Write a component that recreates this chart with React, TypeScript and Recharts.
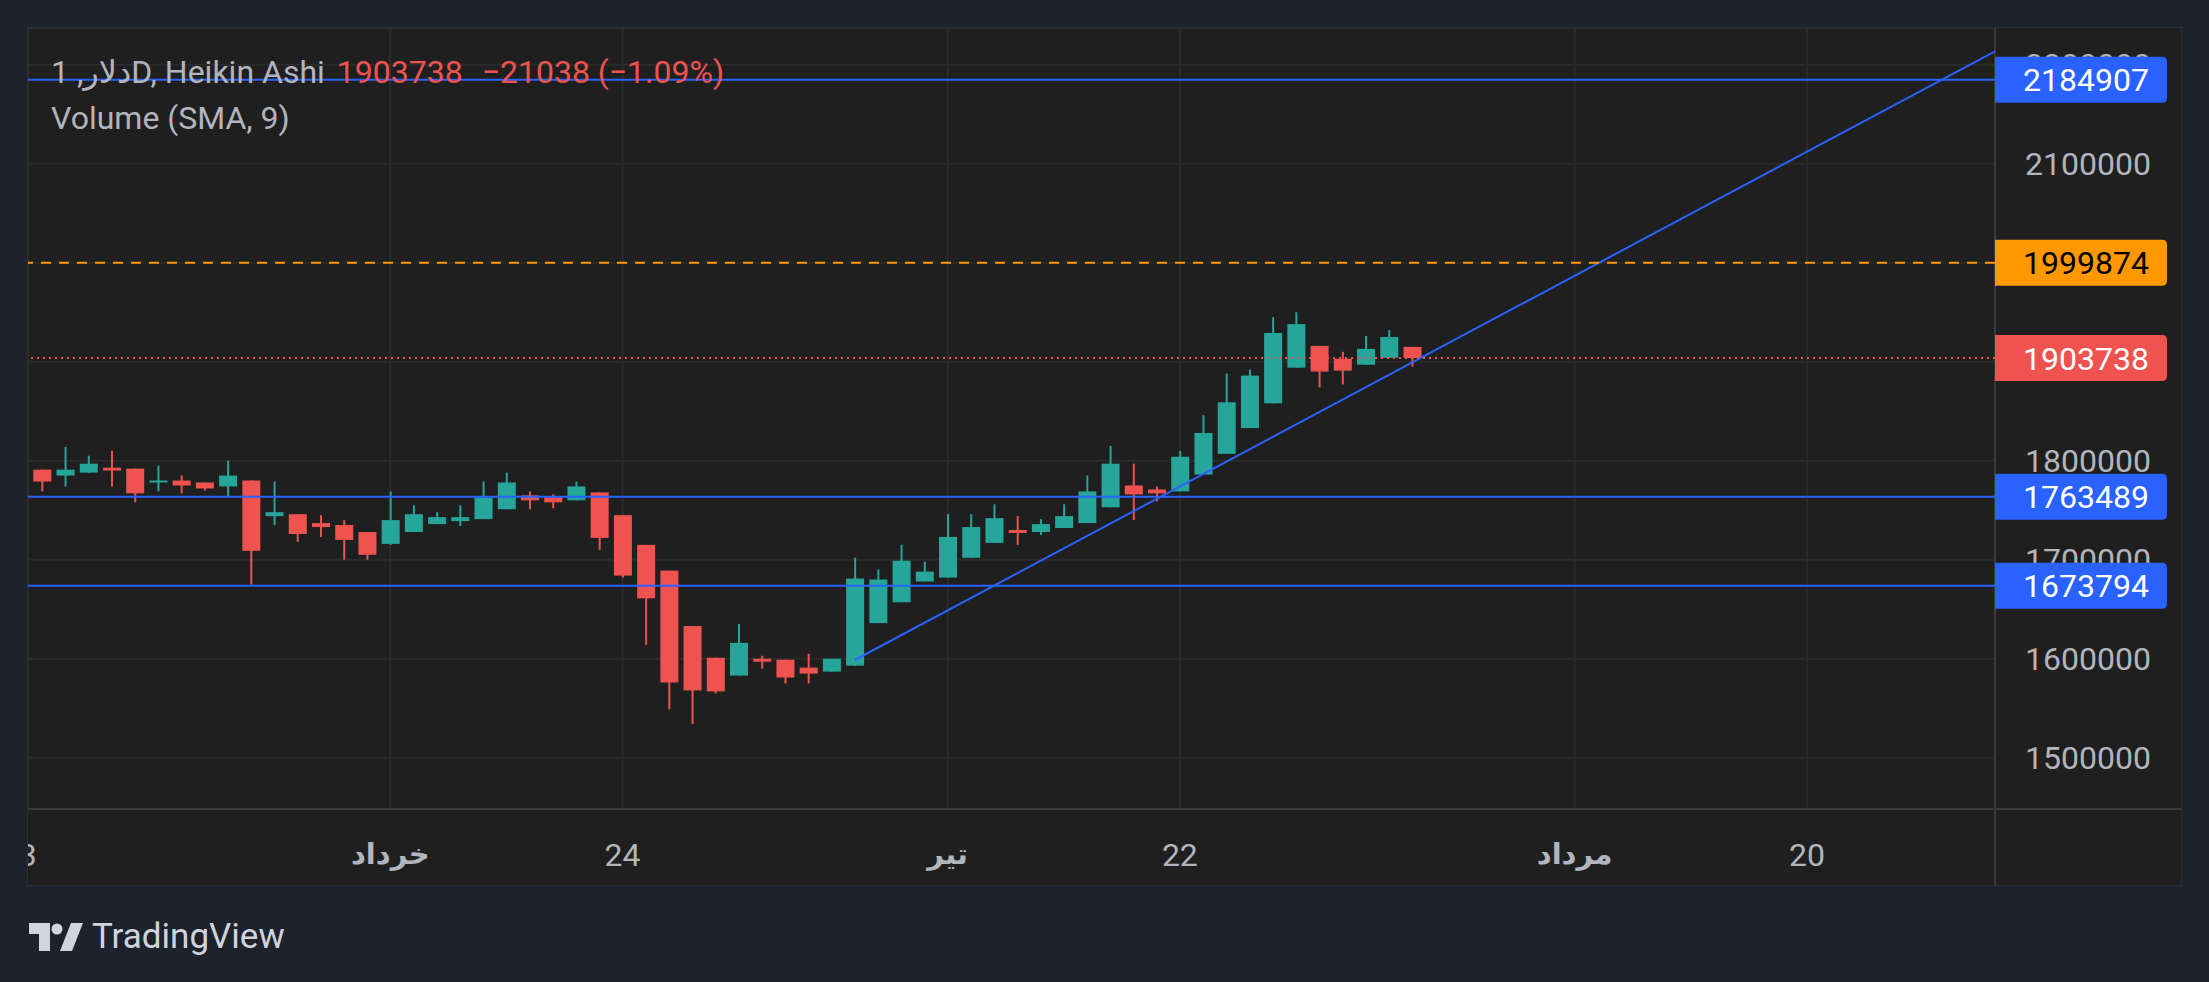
import React from 'react';
import {
  Bar,
  CartesianGrid,
  ComposedChart,
  ReferenceLine,
  XAxis,
  YAxis,
} from 'recharts';

// Heikin Ashi daily candles, oldest first
const OPEN = [
  1791000, 1785000, 1788000, 1793000, 1792000, 1778000, 1780000, 1778000, 1774000, 1780000,
  1744000, 1746000, 1737000, 1735000, 1728000, 1716000, 1728000, 1736000, 1739000, 1741000,
  1751000, 1765000, 1763000, 1760000, 1768000, 1745000, 1715000, 1689000, 1633000, 1601000,
  1583000, 1600000, 1599000, 1591000, 1587000, 1593000, 1636000, 1657000, 1678000, 1682000,
  1702000, 1717000, 1730000, 1728000, 1732000, 1737000, 1753000, 1775000, 1771000, 1769000,
  1786000, 1807000, 1833000, 1858000, 1894000, 1916000, 1903000, 1897000, 1904000, 1915000,
];
const HIGH = [
  1791000, 1814000, 1805000, 1810000, 1792000, 1795000, 1785000, 1778000, 1800000, 1780000,
  1779000, 1746000, 1745000, 1740000, 1728000, 1769000, 1755000, 1748000, 1755000, 1779000,
  1788000, 1769000, 1766000, 1779000, 1768000, 1745000, 1715000, 1689000, 1633000, 1601000,
  1635000, 1603000, 1599000, 1605000, 1600000, 1702000, 1690000, 1715000, 1698000, 1746000,
  1746000, 1756000, 1744000, 1741000, 1756000, 1785000, 1815000, 1797000, 1774000, 1810000,
  1846000, 1888000, 1892000, 1945000, 1950000, 1916000, 1910000, 1926000, 1932000, 1915000,
];
const LOW = [
  1769000, 1774000, 1788000, 1774000, 1758000, 1769000, 1767000, 1770000, 1764000, 1675000,
  1735000, 1718000, 1723000, 1700000, 1700000, 1715000, 1728000, 1736000, 1734000, 1741000,
  1751000, 1751000, 1752000, 1760000, 1710000, 1682000, 1614000, 1549000, 1534000, 1565000,
  1583000, 1590000, 1575000, 1575000, 1587000, 1593000, 1636000, 1657000, 1678000, 1682000,
  1702000, 1717000, 1715000, 1725000, 1732000, 1737000, 1753000, 1740000, 1759000, 1769000,
  1786000, 1807000, 1833000, 1858000, 1894000, 1874000, 1877000, 1897000, 1904000, 1895000,
];
const CLOSE = [
  1779000, 1791000, 1797000, 1790000, 1767000, 1780000, 1775000, 1772000, 1785000, 1709000,
  1748000, 1726000, 1733000, 1720000, 1705000, 1740000, 1746000, 1743000, 1743000, 1763000,
  1778000, 1760000, 1758000, 1774000, 1722000, 1684000, 1661000, 1576000, 1568000, 1567000,
  1616000, 1597000, 1581000, 1585000, 1600000, 1681000, 1680000, 1699000, 1688000, 1723000,
  1733000, 1742000, 1727000, 1736000, 1744000, 1769000, 1797000, 1766000, 1767000, 1804000,
  1828000, 1859000, 1886000, 1929000, 1938000, 1890000, 1891000, 1913000, 1925000, 1903738,
];

// time axis: bar index -> label
const X_TICKS = [0, 16, 26, 40, 50, 67, 77];
const X_LABELS = ['23', 'خرداد', '24', 'تیر', '22', 'مرداد', '20'];
const Y_TICKS = [1500000, 1600000, 1700000, 1800000, 1900000, 2000000, 2100000, 2200000];

// drawings
const SUPPORT_LEVELS = [2184907, 1763489, 1673794];
const TARGET_LEVEL = 1999874;
const LAST_PRICE = 1903738;
const TREND_ANCHORS = [
  { i: 36, p: 1598700 },
  { i: 60, p: 1899200 },
];

const X_DOMAIN: [number, number] = [0.4, 85.1];
const Y_DOMAIN: [number, number] = [1448200, 2237100];

const UP = '#26a69a';
const DOWN = '#ef5350';
const BLUE = '#2962ff';
const ORANGE = '#ff9800';
const TEXT = '#b2b5be';
const FONT = 'Roboto, "DejaVu Sans", sans-serif';
const W = 2153;
const H = 857;

const data = OPEN.map((o, k) => ({
  i: k + 1,
  o,
  h: HIGH[k],
  l: LOW[k],
  c: CLOSE[k],
  range: [LOW[k], HIGH[k]],
}));

// extend the trend line to the right edge
const slope = (TREND_ANCHORS[1].p - TREND_ANCHORS[0].p) / (TREND_ANCHORS[1].i - TREND_ANCHORS[0].i);
const trendEnd = X_DOMAIN[1] + 1;
const trendSegment = [
  { x: TREND_ANCHORS[0].i, y: TREND_ANCHORS[0].p },
  { x: trendEnd, y: TREND_ANCHORS[0].p + slope * (trendEnd - TREND_ANCHORS[0].i) },
];

function Candle(props: any) {
  const { x, y, width, height, payload } = props;
  if (!payload || height == null) return null;
  const { o, h, l, c } = payload;
  const top = Math.min(y, y + height);
  const span = Math.abs(height);
  const ppu = h === l ? 0 : span / (h - l);
  const cx = x + width / 2;
  const bodyTop = top + (h - Math.max(o, c)) * ppu;
  const bodyH = Math.max(Math.abs(o - c) * ppu, 2);
  const color = c >= o ? UP : DOWN;
  return (
    <g>
      <rect x={cx - 1} y={top} width={2} height={span} fill={color} />
      <rect x={x} y={bodyTop} width={width} height={bodyH} fill={color} />
    </g>
  );
}

function PriceTag({ viewBox, value, bg, fg }: any) {
  if (!viewBox) return null;
  const x0 = viewBox.x + viewBox.width;
  const yc = viewBox.y;
  const w = 172;
  const h = 46;
  const r = 5;
  const path = `M${x0} ${yc - h / 2} H${x0 + w - r} Q${x0 + w} ${yc - h / 2} ${x0 + w} ${yc - h / 2 + r} V${yc + h / 2 - r} Q${x0 + w} ${yc + h / 2} ${x0 + w - r} ${yc + h / 2} H${x0} Z`;
  return (
    <g>
      <path d={path} fill={bg} />
      <text x={x0 + 154} y={yc} dy="0.36em" textAnchor="end" fill={fg} fontSize={32} fontFamily={FONT}>
        {value}
      </text>
    </g>
  );
}

function YTick(props: any) {
  const { x, y, payload } = props;
  return (
    <text x={x + 154} y={y} dy="0.36em" textAnchor="end" fill={TEXT} fontSize={32} fontFamily={FONT}>
      {payload.value}
    </text>
  );
}

function XTick(props: any) {
  const { x, y, payload } = props;
  const label = X_LABELS[X_TICKS.indexOf(payload.value)] ?? '';
  const isMonth = !/^\d+$/.test(label);
  return (
    <text
      x={x}
      y={y + 43}
      dy="0.36em"
      textAnchor="middle"
      fill={TEXT}
      fontSize={isMonth ? 29 : 32}
      fontWeight={isMonth ? 'bold' : 'normal'}
      fontFamily={FONT}
    >
      {label}
    </text>
  );
}

function Axes({ show }: { show: boolean }) {
  return (
    <>
      <XAxis
        dataKey="i"
        type="number"
        domain={X_DOMAIN}
        ticks={X_TICKS}
        interval={0}
        allowDataOverflow
        height={76}
        tickSize={0}
        tickLine={false}
        axisLine={show ? { stroke: '#3a3a3a', strokeWidth: 2 } : false}
        tick={show ? <XTick /> : false}
      />
      <YAxis
        orientation="right"
        type="number"
        domain={Y_DOMAIN}
        ticks={Y_TICKS}
        interval={0}
        allowDataOverflow
        width={186}
        tickSize={0}
        tickLine={false}
        axisLine={show ? { stroke: '#3a3a3a', strokeWidth: 2 } : false}
        tick={show ? <YTick /> : false}
      />
    </>
  );
}

export default function App() {
  return (
    <div
      style={{
        position: 'absolute',
        left: 0,
        top: 0,
        width: 2209,
        height: 982,
        background: '#1e222d',
        fontFamily: FONT,
        overflow: 'hidden',
      }}
    >
      <div
        style={{
          position: 'absolute',
          left: 27,
          top: 27,
          width: W,
          height: H,
          border: '1px solid #2e2e2e',
          background: '#1f1f1f',
          overflow: 'hidden',
        }}
      >
        {/* price series */}
        <div style={{ position: 'absolute', left: 0, top: 0 }}>
          <ComposedChart width={W} height={H} data={data} margin={{ top: 0, right: 0, bottom: 0, left: 0 }}>
            <CartesianGrid stroke="#2b2b2b" strokeWidth={2} />
            {Axes({ show: true })}
            <Bar dataKey="range" barSize={18} shape={<Candle />} isAnimationActive={false} />
          </ComposedChart>
        </div>

        {/* drawings and price tags, above the axis labels */}
        <div style={{ position: 'absolute', left: 0, top: 0 }}>
          <ComposedChart width={W} height={H} data={data} margin={{ top: 0, right: 0, bottom: 0, left: 0 }}>
            {Axes({ show: false })}
            <ReferenceLine segment={trendSegment} stroke={BLUE} strokeWidth={2} ifOverflow="hidden" />
            {SUPPORT_LEVELS.map((v) => (
              <ReferenceLine
                key={v}
                y={v}
                stroke={BLUE}
                strokeWidth={2}
                label={(p: any) => <PriceTag viewBox={p.viewBox} value={v} bg={BLUE} fg="#ffffff" />}
              />
            ))}
            <ReferenceLine
              y={TARGET_LEVEL}
              stroke={ORANGE}
              strokeWidth={2}
              strokeDasharray="10 8"
              label={(p: any) => <PriceTag viewBox={p.viewBox} value={TARGET_LEVEL} bg={ORANGE} fg="#000000" />}
            />
            <ReferenceLine
              y={LAST_PRICE}
              stroke={DOWN}
              strokeWidth={2}
              strokeDasharray="2 4"
              label={(p: any) => <PriceTag viewBox={p.viewBox} value={LAST_PRICE} bg={DOWN} fg="#ffffff" />}
            />
          </ComposedChart>
        </div>

        <div
          style={{
            position: 'absolute',
            left: 23,
            top: 21,
            height: 46,
            lineHeight: '46px',
            fontSize: 32,
            color: TEXT,
            whiteSpace: 'pre',
          }}
        >
          <span>دلار, 1D, Heikin Ashi</span>
          <span style={{ color: DOWN, marginLeft: 12 }}>1903738</span>
          <span style={{ color: DOWN, marginLeft: 19 }}>−21038 (−1.09%)</span>
        </div>
        <div
          style={{
            position: 'absolute',
            left: 23,
            top: 67,
            height: 46,
            lineHeight: '46px',
            fontSize: 32,
            color: TEXT,
          }}
        >
          Volume (SMA, 9)
        </div>
        {/* axis separators that run through the corner */}
        <div style={{ position: 'absolute', left: 1966, top: 781, width: 2, height: 76, background: '#3a3a3a' }} />
        <div style={{ position: 'absolute', left: 1967, top: 780, width: 186, height: 2, background: '#3a3a3a' }} />
      </div>

      <div style={{ position: 'absolute', left: 29, top: 919, display: 'flex', alignItems: 'center' }}>
        <svg width={54} height={28} viewBox="0 0 54 28">
          <path d="M0 0 H21 V28 H10 V11 H0 Z" fill="#d1d4dc" />
          <circle cx={28} cy={6} r={5.5} fill="#d1d4dc" />
          <path d="M31 28 L42 0 H54 L43 28 Z" fill="#d1d4dc" />
        </svg>
        <span style={{ marginLeft: 9, fontSize: 35, color: '#d1d4dc', lineHeight: '36px' }}>TradingView</span>
      </div>
    </div>
  );
}
